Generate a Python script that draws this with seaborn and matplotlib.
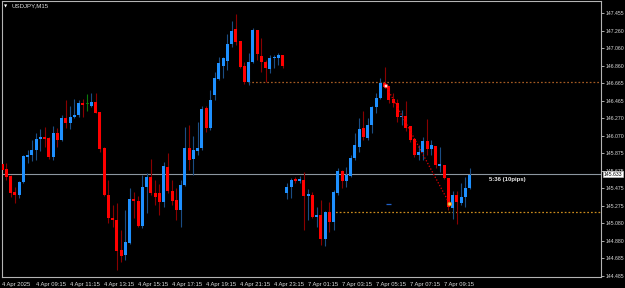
import matplotlib
matplotlib.use("Agg")
import matplotlib.pyplot as plt
import matplotlib.transforms as mtransforms
import seaborn as sns
import numpy as np
import pandas as pd

# ---------------- data (USDJPY, M15) ----------------
opens = [145.749, 145.693, 145.613, 145.432, 145.398, 145.545, 145.829, 145.851, 145.908, 146.032,
         146.055, 146.043, 145.829, 146.100, 146.021, 146.270, 146.213, 146.281, 146.304, 146.440,
         146.428, 146.406, 146.451, 146.338, 145.930, 145.398, 145.138, 145.115, 144.776, 144.719,
         144.855, 145.353, 145.330, 145.047, 145.489, 145.602, 145.421, 145.421, 145.319, 145.715,
         145.443, 145.342, 145.228, 145.511, 145.930, 145.806, 145.896, 145.930, 146.383, 146.157,
         146.530, 146.711, 146.858, 146.915, 147.107, 147.277, 147.141, 146.858, 146.677, 146.904,
         147.266, 146.972, 146.904, 146.825, 146.949, 146.949, 146.983, 145.421, 145.489, 145.579,
         145.557, 145.568, 145.387, 145.398, 145.149, 145.172, 144.900, 145.206, 145.093, 145.421,
         145.670, 145.557, 145.613, 145.817, 145.941, 146.157, 146.043, 146.191, 146.394, 146.496,
         146.666, 146.632, 146.485, 146.440, 146.281, 146.292, 146.179, 146.032, 145.851, 145.885,
         146.009, 145.919, 145.953, 145.727, 145.738, 145.591, 145.251, 145.398, 145.308, 145.375,
         145.477]
highs = [145.760, 145.760, 145.625, 145.489, 145.557, 145.851, 145.908, 146.021, 146.100, 146.145,
         146.168, 146.055, 146.179, 146.157, 146.304, 146.474, 146.406, 146.485, 146.474, 146.485,
         146.541, 146.553, 146.553, 146.338, 145.941, 145.568, 145.285, 145.308, 145.002, 145.228,
         145.477, 145.432, 145.387, 145.625, 145.647, 145.806, 145.568, 145.523, 145.772, 145.874,
         145.568, 145.477, 145.568, 146.168, 146.191, 146.066, 146.225, 146.406, 146.406, 146.587,
         146.791, 146.960, 146.960, 147.221, 147.368, 147.447, 147.141, 146.904, 147.006, 147.289,
         147.266, 147.176, 146.926, 146.983, 146.983, 147.006, 146.983, 145.534, 145.591, 145.602,
         145.613, 145.659, 145.466, 145.432, 145.262, 145.342, 145.217, 145.319, 145.455, 145.704,
         145.681, 145.715, 145.851, 146.100, 146.270, 146.349, 146.270, 146.406, 146.553, 146.723,
         146.847, 146.632, 146.553, 146.485, 146.360, 146.462, 146.179, 146.032, 145.964, 146.055,
         146.259, 146.021, 145.953, 145.941, 145.738, 145.591, 145.443, 145.443, 145.534, 145.602,
         145.704]
lows = [145.659, 145.568, 145.375, 145.308, 145.364, 145.534, 145.760, 145.783, 145.795, 145.896,
        145.941, 145.806, 145.795, 145.941, 146.009, 146.157, 146.145, 146.270, 146.281, 146.281,
        146.349, 146.394, 146.326, 145.885, 145.387, 145.081, 145.036, 144.549, 144.640, 144.662,
        144.843, 145.138, 145.036, 145.025, 145.194, 145.398, 145.285, 145.172, 145.262, 145.421,
        145.285, 145.115, 145.036, 145.500, 145.681, 145.625, 145.851, 145.908, 146.111, 146.134,
        146.474, 146.700, 146.723, 146.813, 147.073, 147.096, 146.836, 146.655, 146.643, 146.892,
        146.926, 146.791, 146.677, 146.779, 146.836, 146.870, 146.836, 145.353, 145.364, 145.534,
        145.534, 145.002, 145.115, 145.138, 145.036, 144.832, 144.821, 144.980, 145.002, 145.398,
        145.477, 145.489, 145.602, 145.795, 145.885, 146.021, 146.021, 146.100, 146.326, 146.485,
        146.609, 146.440, 146.394, 146.225, 146.191, 146.123, 145.998, 145.829, 145.795, 145.795,
        145.851, 145.851, 145.704, 145.659, 145.579, 145.228, 145.126, 145.070, 145.285, 145.262,
        145.466]
closes = [145.681, 145.602, 145.421, 145.398, 145.545, 145.840, 145.851, 145.908, 146.032, 146.055,
          146.032, 145.829, 146.100, 146.021, 146.270, 146.213, 146.281, 146.304, 146.440, 146.417,
          146.428, 146.451, 146.326, 145.919, 145.398, 145.138, 145.115, 144.765, 144.708, 144.866,
          145.353, 145.330, 145.047, 145.489, 145.602, 145.421, 145.375, 145.319, 145.727, 145.443,
          145.330, 145.228, 145.511, 145.930, 145.795, 145.908, 145.930, 146.372, 146.157, 146.474,
          146.723, 146.892, 146.949, 147.107, 147.255, 147.130, 146.847, 146.677, 146.904, 147.266,
          146.994, 146.904, 146.836, 146.949, 146.960, 146.983, 146.858, 145.489, 145.568, 145.557,
          145.579, 145.387, 145.409, 145.149, 145.172, 144.900, 145.206, 145.093, 145.432, 145.670,
          145.557, 145.625, 145.817, 145.964, 146.145, 146.055, 146.191, 146.394, 146.496, 146.666,
          146.621, 146.474, 146.440, 146.281, 146.292, 146.157, 146.021, 145.851, 145.885, 146.009,
          145.919, 145.964, 145.738, 145.749, 145.591, 145.262, 145.398, 145.319, 145.375, 145.477,
          145.625]

time_labels = ["4 Apr 2025", "4 Apr 09:15", "4 Apr 11:15", "4 Apr 13:15", "4 Apr 15:15",
               "4 Apr 17:15", "4 Apr 19:15", "4 Apr 21:15", "4 Apr 23:15", "7 Apr 01:15",
               "7 Apr 03:15", "7 Apr 05:15", "7 Apr 07:15", "7 Apr 09:15"]
price_ticks = [147.455, 147.260, 147.060, 146.860, 146.665, 146.465, 146.270, 146.070,
               145.875, 145.675, 145.475, 145.275, 145.080, 144.880, 144.685, 144.485]
current_price = 145.633
current_label = "145.633"
level_high = 146.680
level_low = 145.204
trend_start = (90.3, 146.632)
trend_end = (105.3, 145.296)
timer_text = "5:36 (10pips)"
symbol_text = "USDJPY,M15"

df = pd.DataFrame({"open": opens, "high": highs, "low": lows, "close": closes})
df["bar"] = np.arange(len(df))

# ---------------- style ----------------
sns.set_theme(style="dark")
sns.set_style({"axes.facecolor": "black", "figure.facecolor": "black"})
plt.rcParams["font.family"] = ["Liberation Sans", "DejaVu Sans"]

fig = plt.figure(figsize=(6.25, 2.88), dpi=100)
fig.patch.set_facecolor("black")
ax = fig.add_axes([2 / 625, 11 / 288, 599 / 625, 276 / 288])
ax.set_facecolor("black")

UP_BODY, DN_BODY = "#1e90ff", "#ff0000"
UP_WICK, DN_WICK = "#1b4d84", "#8a0000"
DOJI = "#0a7a0a"

up = df["close"] > df["open"]
dn = df["close"] < df["open"]
body_col = np.where(up, UP_BODY, np.where(dn, DN_BODY, DOJI))
wick_col = np.where(up, UP_WICK, np.where(dn, DN_WICK, DOJI))

# wicks
ax.vlines(df["bar"], df["low"], df["high"], colors=wick_col, linewidth=0.8, zorder=2)
# bodies
bottoms = np.minimum(df["open"], df["close"])
heights = np.maximum(np.abs(df["close"] - df["open"]), 0.010)
ax.bar(df["bar"], heights, bottom=bottoms, width=0.7, color=body_col, linewidth=0, zorder=3)

# current price line
ax.axhline(current_price, color="#8c96a0", lw=0.8, zorder=1)

# horizontal dotted levels
ax.hlines(level_high, 57.8, 145, colors="#a35a22", linestyles=(0, (1.4, 1.6)), lw=0.9, zorder=1)
ax.hlines(level_low, 76.7, 145, colors="#c98a1c", linestyles=(0, (1.4, 1.6)), lw=0.9, zorder=1)

# red dotted trend line
ax.plot([trend_start[0], trend_end[0]], [trend_start[1], trend_end[1]],
        color="#e00000", ls=(0, (1, 1.5)), lw=0.9, zorder=4)
mk = pd.DataFrame({"x": [trend_start[0], trend_end[0]], "y": [trend_start[1], trend_end[1]],
                   "k": ["a", "b"]})
sns.scatterplot(data=mk, x="x", y="y", hue="k", palette={"a": "#ffe0e0", "b": "#ffc070"},
                edgecolor=["#ff2020", "#e08000"], linewidth=0.6, s=7, marker="o",
                legend=False, ax=ax, zorder=5)
ax.hlines(trend_end[1], 90.3, 91.6, colors="#2060c8", lw=0.9, zorder=4)

ax.text(114.5, 145.574, timer_text, color="#e8e8e8", fontsize=4.3, fontweight="bold",
        ha="left", va="center", zorder=6)

# ---------------- axes ----------------
xmin = -0.047
ax.set_xlim(xmin, xmin + 599 / 4.25)
ax.set_ylim(147.6055 - 0.011319 * 277, 147.6055 - 0.011319 * 1)
ax.set_xlabel("")
ax.set_ylabel("")

ax.yaxis.tick_right()
ax.set_yticks(price_ticks)
ax.set_yticklabels([f"{v:.3f}" for v in price_ticks])
ax.set_xticks(np.arange(len(time_labels)) * 8)
ax.set_xticklabels(time_labels)
for lbl in ax.get_xticklabels():
    lbl.set_ha("left")
ax.tick_params(axis="y", colors="#c8c8c8", labelcolor="#dcdcdc", labelsize=3.7,
               length=2.0, width=0.6, pad=1.0, direction="out")
ax.tick_params(axis="x", colors="#c8c8c8", labelcolor="#dcdcdc", labelsize=4.2,
               length=2.5, width=0.6, pad=1.0, direction="out")
ax.grid(False)
for side in ["left", "right", "top", "bottom"]:
    ax.spines[side].set_visible(True)
    ax.spines[side].set_color("#b4b4b4")
    ax.spines[side].set_linewidth(0.8)

# current price box on the price scale
trans = mtransforms.blended_transform_factory(ax.transAxes, ax.transData)
ax.text(1.004, current_price, current_label, transform=trans, fontsize=3.7, color="black",
        ha="left", va="center", clip_on=False, zorder=10,
        bbox=dict(boxstyle="square,pad=0.12", facecolor="white", edgecolor="#d0d0d0", lw=0.4))

# symbol label
fig.text(4 / 625, 1 - 6 / 288, "\u25BC", color="white", fontsize=3.0, ha="left", va="center",
         family=["DejaVu Sans"])
fig.text(11 / 625, 1 - 6 / 288, symbol_text, color="#e0e0e0", fontsize=4.4, ha="left", va="center")

fig.savefig("out.png", dpi=100, facecolor="black")
